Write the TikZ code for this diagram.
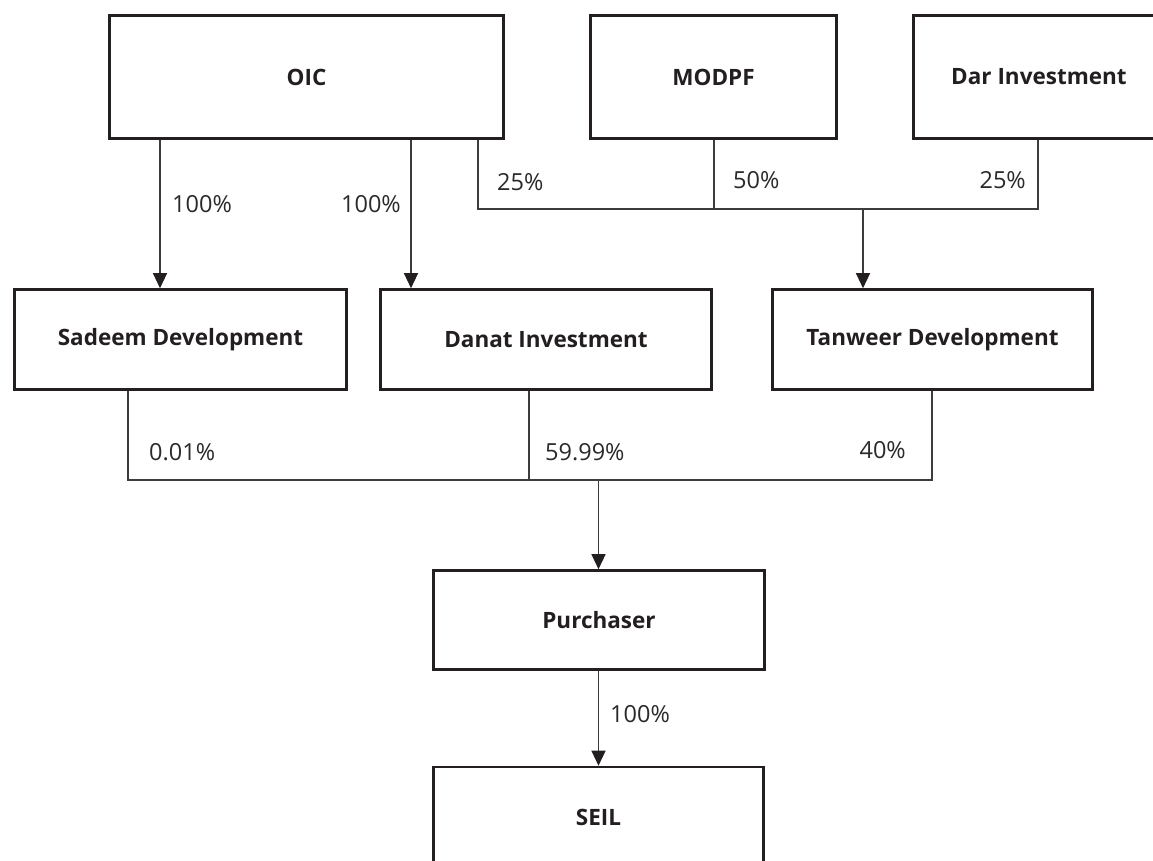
\documentclass[tikz,border=0pt]{standalone}
\usepackage{fontspec}
\setmainfont{Open Sans}
\usetikzlibrary{arrows.meta}
\definecolor{boxline}{HTML}{231F20}
\definecolor{conn}{HTML}{3C3C3C}
\definecolor{pct}{HTML}{2A2A2A}
\tikzset{
  entity/.style={draw=boxline, line width=2.6pt, rectangle, inner sep=0pt,
    font=\fontsize{22.5}{26}\selectfont\bfseries, text=boxline},
  link/.style={draw=conn, line width=1.3pt},
  arr/.style={link, -{Triangle[length=15pt, width=14pt, color=boxline]}},
  pcttext/.style={font=\fontsize{23.5}{27}\selectfont, text=pct, inner sep=0pt}
}
\begin{document}
\begin{tikzpicture}[x=1pt, y=-1pt]
\useasboundingbox (0,0) rectangle (1153,861);
\clip (0,0) rectangle (1153,861);
\fill[white] (0,0) rectangle (1153,861);
% entities
\node[entity, minimum width=394pt, minimum height=123pt] (OIC) at (306.5,77) {OIC};
\node[entity, minimum width=246pt, minimum height=123pt] (MODPF) at (713.5,77) {MODPF};
\node[entity, minimum width=251pt, minimum height=123pt] (Dar) at (1039,77) {Dar Investment};
\node[entity, minimum width=332pt, minimum height=100pt] (Sadeem) at (180.5,339.5) {Sadeem Development};
\node[entity, minimum width=331pt, minimum height=100pt] (Danat) at (546,339.5) {Danat Investment};
\node[entity, minimum width=320pt, minimum height=100pt] (Tanweer) at (932.5,339.5) {Tanweer Development};
\node[entity, minimum width=331pt, minimum height=99pt] (Purchaser) at (599,620) {Purchaser};
\node[entity, minimum width=330pt, minimum height=100pt] (SEIL) at (598.5,817) {SEIL};
% helper coordinates
\coordinate (xa) at (160,0);
\coordinate (xb) at (411,0);
\coordinate (xc) at (478,0);
\coordinate (xd) at (714,0);
\coordinate (xe) at (1038,0);
\coordinate (xf) at (863,0);
\coordinate (xg) at (128,0);
\coordinate (xh) at (529,0);
\coordinate (xi) at (932,0);
\coordinate (xj) at (598.5,0);
\coordinate (top) at (0,209);
\coordinate (mid) at (0,480);
% upper connectors
\draw[arr] (OIC.south -| xa) -- (Sadeem.north -| xa);
\draw[arr] (OIC.south -| xb) -- (Danat.north -| xb);
\draw[link] (OIC.south -| xc) -- (top -| xc) -- (top -| xe) -- (Dar.south -| xe);
\draw[link] (MODPF.south -| xd) -- (top -| xd);
\draw[arr] (top -| xf) -- (Tanweer.north -| xf);
% middle connectors
\draw[link] (Sadeem.south -| xg) -- (mid -| xg) -- (mid -| xi) -- (Tanweer.south -| xi);
\draw[link] (Danat.south -| xh) -- (mid -| xh);
\draw[arr] (mid -| xj) -- (Purchaser.north -| xj);
\draw[arr] (Purchaser.south -| xj) -- (SEIL.north -| xj);
% percentages
\node[pcttext, anchor=west] (p1) at (172,204) {100\%};
\node[pcttext, anchor=east] (p2) at (401,204) {100\%};
\node[pcttext, anchor=west] (p3) at (497,182) {25\%};
\node[pcttext, anchor=west] (p4) at (733,180) {50\%};
\node[pcttext, anchor=east] (p5) at (1026,180) {25\%};
\node[pcttext, anchor=west] (p6) at (149,452) {0.01\%};
\node[pcttext, anchor=west] (p7) at (545,452) {59.99\%};
\node[pcttext, anchor=east] (p8) at (906,450) {40\%};
\node[pcttext, anchor=west] (p9) at (610,714) {100\%};
\end{tikzpicture}
\end{document}
